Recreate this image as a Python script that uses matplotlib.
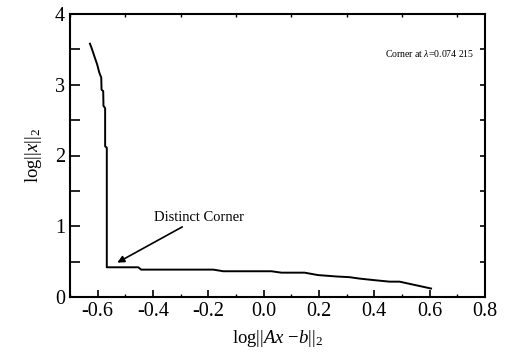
import numpy as np
import matplotlib.pyplot as plt
from matplotlib.ticker import MultipleLocator

plt.rcParams['font.family'] = ['Liberation Serif', 'DejaVu Serif']
plt.rcParams['mathtext.fontset'] = 'custom'
plt.rcParams['mathtext.rm'] = 'Liberation Serif'
plt.rcParams['mathtext.it'] = 'Liberation Serif:italic'

# L-curve points (log residual norm, log solution norm)
log_res = [-0.628, -0.622, -0.610, -0.602, -0.594, -0.587, -0.586, -0.580,
           -0.579, -0.573, -0.573, -0.567, -0.567, -0.453, -0.443, -0.182,
           -0.146, 0.028, 0.064, 0.148, 0.196, 0.263, 0.311, 0.347, 0.395,
           0.455, 0.491, 0.605]
log_sol = [3.58, 3.52, 3.38, 3.29, 3.17, 3.10, 2.93, 2.91,
           2.70, 2.67, 2.13, 2.11, 0.42, 0.42, 0.387, 0.387,
           0.364, 0.364, 0.344, 0.344, 0.31, 0.29, 0.28, 0.26, 0.24,
           0.217, 0.217, 0.12]

corner_xy = (-0.529, 0.486)
label_xy = (-0.396, 1.03)

fig = plt.figure(figsize=(5.07, 3.61), dpi=100)
ax = fig.add_axes([70 / 507, 1 - 297 / 361, 415 / 507, 283 / 361])

ax.plot(log_res, log_sol, color='black', lw=1.4)

ax.annotate('Distinct Corner', xy=corner_xy, xytext=label_xy,
            fontsize=10.5, va='bottom', ha='left',
            arrowprops=dict(arrowstyle='-|>', color='black', lw=1.2,
                            shrinkA=0, shrinkB=0, mutation_scale=10))
ax.text(0.437, 3.44, r'Corner at $\lambda$=0.074 215', fontsize=7.0,
        va='center', ha='left')

ax.set_xlim(-0.7, 0.8)
ax.set_ylim(0, 4)
ax.set_xticks(np.arange(-0.6, 0.81, 0.2))
ax.set_xticklabels(['-0.6', '-0.4', '-0.2', '0.0', '0.2', '0.4', '0.6', '0.8'])
ax.xaxis.set_minor_locator(MultipleLocator(0.1))
ax.set_yticks([0, 1, 2, 3, 4])
ax.yaxis.set_minor_locator(MultipleLocator(0.5))
ax.tick_params(which='major', direction='in', width=1.2, labelsize=14.5,
               right=True, top=True)
ax.tick_params(axis='x', which='major', length=5, top=False)
ax.tick_params(axis='x', which='minor', direction='in', length=2, width=1,
               top=True)
ax.tick_params(axis='y', which='major', length=7)
ax.tick_params(axis='y', which='minor', direction='in', length=7, width=1.2,
               right=True)
# shorter ticks on the right spine
for t in ax.yaxis.get_major_ticks() + ax.yaxis.get_minor_ticks():
    t.tick2line.set_markersize(3.5)
for s in ax.spines.values():
    s.set_linewidth(1.5)

ax.set_xlabel('log||$Ax$ −$b$||$_2$', fontsize=13.5, labelpad=5)
ax.set_ylabel('log||$x$||$_2$', fontsize=13.5, labelpad=8)

plt.savefig('out.png', dpi=100)
